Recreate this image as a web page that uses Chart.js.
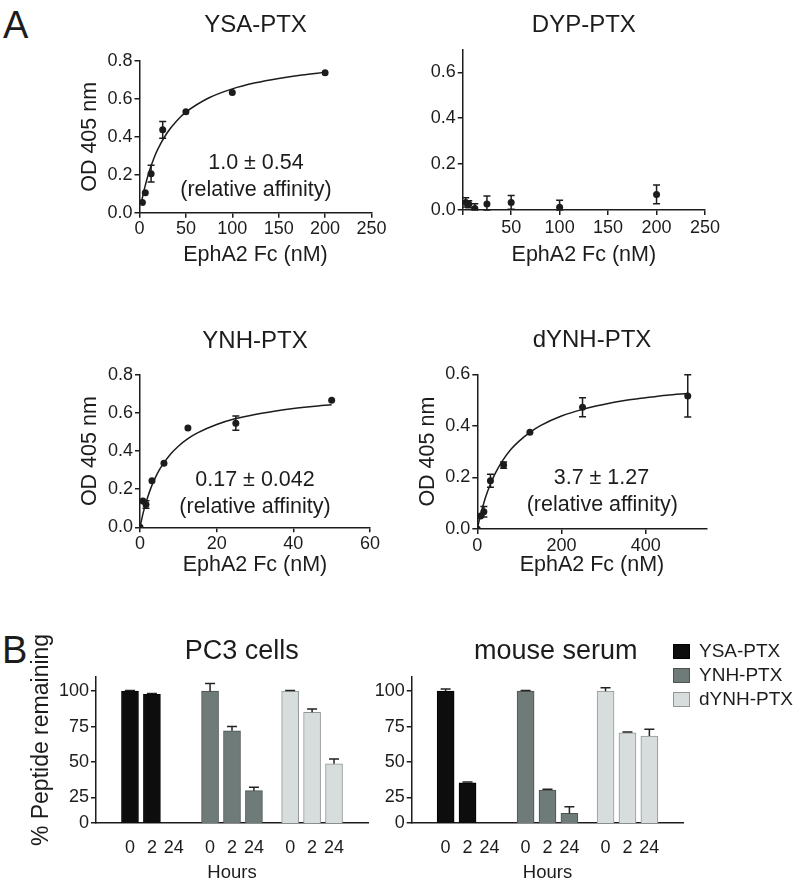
<!DOCTYPE html>
<html>
<head>
<meta charset="utf-8">
<title>EphA2 binding and peptide stability</title>
<script src="https://cdn.jsdelivr.net/npm/chart.js@4.4.1/dist/chart.umd.min.js"></script>
<style>
  body { margin: 0; background: #fff; }
  #fig { position: relative; width: 800px; height: 890px; font-family: "Liberation Sans", Arial, sans-serif; color: #1c1c1c; }
  #fig canvas { position: absolute; }
  .letter { position: absolute; font-size: 38px; line-height: 1; }
  #legend { position: absolute; left: 673px; top: 639px; font-size: 19px; }
  #legend .row { display: flex; align-items: center; height: 24px; }
  #legend .sw { width: 15px; height: 13px; border: 1px solid; margin-right: 9px; }
</style>
</head>
<body>
<div id="fig">
  <div class="letter" style="left:3px;top:6px">A</div>
  <div class="letter" style="left:2px;top:631px">B</div>
  <canvas id="ysa" width="400" height="290" style="left:0;top:0"></canvas>
  <canvas id="dyp" width="400" height="290" style="left:400px;top:0"></canvas>
  <canvas id="ynh" width="400" height="290" style="left:0;top:300px"></canvas>
  <canvas id="dynh" width="400" height="290" style="left:400px;top:300px"></canvas>
  <canvas id="pc3" width="400" height="290" style="left:0;top:600px"></canvas>
  <canvas id="serum" width="460" height="290" style="left:340px;top:600px"></canvas>
  <div id="legend"></div>
</div>
<script>
// ---- A: binding curves (EphA2 Fc, nM vs OD 405 nm) ----
const ysaConc = [3.125, 6.25, 12.5, 25, 50, 100, 200];
const ysaOD   = [0.054, 0.105, 0.206, 0.437, 0.532, 0.634, 0.738];
const ysaErr  = [0, 0, 0.044, 0.044, 0, 0, 0];
const ysaFitX = [2, 5, 10, 15, 20, 30, 40, 50, 75, 100, 125, 150, 175, 200];
const ysaFitY = [0.053, 0.120, 0.211, 0.281, 0.338, 0.423, 0.484, 0.530, 0.606, 0.653, 0.685, 0.708, 0.726, 0.740];

const dypConc = [3.125, 6.25, 12.5, 25, 50, 100, 200];
const dypOD   = [0.033, 0.025, 0.007, 0.026, 0.033, 0.012, 0.068];
const dypErr  = [0.02, 0.015, 0.02, 0.035, 0.03, 0.03, 0.041];

const ynhConc = [0, 0.78, 1.56, 3.125, 6.25, 12.5, 25, 50];
const ynhOD   = [0, 0.138, 0.12, 0.245, 0.337, 0.521, 0.547, 0.668];
const ynhErr  = [0, 0, 0.02, 0, 0, 0, 0.037, 0];
const ynhFitX = [0, 0.5, 1, 2, 3, 4, 5, 6, 8, 10, 12.5, 15, 20, 25, 30, 35, 40, 45, 50];
const ynhFitY = [0, 0.047, 0.089, 0.158, 0.215, 0.261, 0.300, 0.332, 0.385, 0.426, 0.466, 0.496, 0.540, 0.571, 0.593, 0.610, 0.624, 0.635, 0.644];

const dynhConc = [0, 7.8, 15.6, 31.25, 62.5, 125, 250, 500];
const dynhOD   = [0, 0.05, 0.067, 0.187, 0.248, 0.375, 0.472, 0.516];
const dynhErr  = [0, 0, 0.02, 0.025, 0.012, 0, 0.037, 0.082];
const dynhFitX = [0, 5, 10, 20, 30, 40, 50, 60, 80, 100, 125, 150, 200, 250, 300, 350, 400, 450, 500];
const dynhFitY = [0, 0.037, 0.069, 0.125, 0.170, 0.207, 0.238, 0.265, 0.309, 0.342, 0.375, 0.401, 0.438, 0.464, 0.483, 0.498, 0.509, 0.519, 0.526];

// ---- B: % peptide remaining at 0, 2, 24 h ----
const peptides = ['YSA-PTX', 'YNH-PTX', 'dYNH-PTX'];
const hourLabels = ['0', '2', '24'];
const pctTickValues = [7, 25, 50, 75, 100];
const pctTickLabels = ['0', '25', '50', '75', '100'];

const pc3YSA  = [100, 97.8, 0];    const pc3YSAErr  = [0.5, 0.5, 0];
const pc3YNH  = [100, 72.1, 29.8]; const pc3YNHErr  = [5.5, 3, 2.5];
const pc3DYNH = [100, 85.1, 48.8]; const pc3DYNHErr = [0.5, 2.3, 3.3];

const serumYSA  = [100, 35.4, 0];    const serumYSAErr  = [1.5, 0.5, 0];
const serumYNH  = [100, 30.3, 13.8]; const serumYNHErr  = [0.5, 0.5, 4.7];
const serumDYNH = [100, 70.7, 68.4]; const serumDYNHErr = [2.5, 0.5, 4.7];

const ink = '#1c1c1c';
const fills = ['#0d0d0d', '#6e7b79', '#d7dddc'];
const edges = ['#000000', '#4a5351', '#8f9896'];
const groupStep = 3.65;

Chart.defaults.font.family = '"Liberation Sans", Arial, Helvetica, sans-serif';
Chart.defaults.color = ink;

const axisGrid = { drawOnChartArea: false, tickLength: 5, color: ink, lineWidth: 1.5 };
const axisBorder = { display: true, color: ink, width: 1.5 };

// error bars read from dataset.errors; bars only get the upper half
const errorBars = {
    id: 'errorBars',
    afterDatasetsDraw(chart) {
        const ctx = chart.ctx;
        const yScale = chart.scales.y;
        chart.data.datasets.forEach((ds, i) => {
            if (!ds.errors) return;
            const meta = chart.getDatasetMeta(i);
            const cap = ds.errorUpOnly ? 5 : 3.5;
            meta.data.forEach((el, j) => {
                const err = ds.errors[j];
                if (!err) return;
                const v = ds.data[j].y;
                const top = yScale.getPixelForValue(v + err);
                const bottom = ds.errorUpOnly ? el.y : yScale.getPixelForValue(Math.max(yScale.min, v - err));
                ctx.save();
                ctx.strokeStyle = ds.errorUpOnly ? '#222' : ink;
                ctx.lineWidth = 1.5;
                ctx.beginPath();
                ctx.moveTo(el.x, top);
                ctx.lineTo(el.x, bottom);
                ctx.moveTo(el.x - cap, top);
                ctx.lineTo(el.x + cap, top);
                if (!ds.errorUpOnly) {
                    ctx.moveTo(el.x - cap, bottom);
                    ctx.lineTo(el.x + cap, bottom);
                }
                ctx.stroke();
                ctx.restore();
            });
        });
    }
};

// free text: anchored in data space, or relative to the chart area
const notes = {
    id: 'notes',
    afterDraw(chart, args, opts) {
        const ctx = chart.ctx;
        const area = chart.chartArea;
        (opts.items || []).forEach(it => {
            let x, y;
            if (it.data) {
                x = chart.scales.x.getPixelForValue(it.data[0]);
                y = chart.scales.y.getPixelForValue(it.data[1]);
            } else if (it.from === 'left') {
                x = area.left + it.dx;
                y = (area.top + area.bottom) / 2 + it.dy;
            } else {
                x = (area.left + area.right) / 2 + it.dx;
                y = area.top + it.dy;
            }
            ctx.save();
            ctx.font = it.size + 'px "Liberation Sans", Arial, sans-serif';
            ctx.fillStyle = ink;
            ctx.textAlign = 'center';
            ctx.textBaseline = 'middle';
            ctx.translate(x, y);
            if (it.rotate) ctx.rotate(it.rotate);
            ctx.fillText(it.text, 0, 0);
            ctx.restore();
        });
    }
};

function bindingPanel(id, p) {
    const datasets = [{
        data: p.conc.map((c, i) => ({ x: c, y: p.od[i] })),
        errors: p.err,
        pointRadius: 3.5,
        pointBackgroundColor: ink,
        pointBorderColor: ink,
        pointBorderWidth: 0
    }];
    if (p.fitX) {
        datasets.push({
            data: p.fitX.map((x, i) => ({ x: x, y: p.fitY[i] })),
            showLine: true,
            pointRadius: 0,
            borderColor: ink,
            borderWidth: 1.5,
            cubicInterpolationMode: 'monotone'
        });
    }
    return new Chart(document.getElementById(id), {
        type: 'scatter',
        data: { datasets: datasets },
        options: {
            responsive: false,
            animation: false,
            layout: { padding: p.pad },
            plugins: {
                legend: { display: false },
                tooltip: { enabled: false },
                title: { display: true, text: p.title, fullSize: false, color: ink,
                         font: { size: 24, weight: 'normal' }, padding: p.titlePad },
                notes: { items: p.notes || [] }
            },
            scales: {
                x: {
                    type: 'linear', min: 0, max: p.xMax,
                    ticks: { stepSize: p.xStep, includeBounds: false, autoSkip: false, maxRotation: 0,
                             padding: p.xTickPad, font: { size: 18 },
                             callback: v => (p.hideZeroX && v === 0) ? '' : v },
                    grid: axisGrid,
                    border: axisBorder,
                    title: { display: true, text: 'EphA2 Fc (nM)', font: { size: 21.5 }, padding: 0 },
                    afterFit: s => { s.height = p.hx; }
                },
                y: {
                    min: 0, max: p.yMax,
                    ticks: { stepSize: 0.2, includeBounds: false, padding: 2, font: { size: 18 },
                             callback: v => v.toFixed(1) },
                    grid: axisGrid,
                    border: axisBorder,
                    title: { display: !!p.yTitle, text: 'OD 405 nm', font: { size: 21.5 }, padding: 0 },
                    afterFit: s => { s.width = p.wy; }
                }
            }
        },
        plugins: [errorBars, notes]
    });
}

function stabilityPanel(id, p) {
    const series = [p.ysa, p.ynh, p.dynh];
    const errs = [p.ysaErr, p.ynhErr, p.dynhErr];
    const slots = [];
    const datasets = peptides.map((name, g) => ({
        label: name,
        data: series[g].map((v, h) => {
            slots.push(g * groupStep + h);
            return { x: g * groupStep + h, y: v };
        }),
        errors: errs[g],
        errorUpOnly: true,
        backgroundColor: fills[g],
        borderColor: edges[g],
        borderWidth: 1,
        barThickness: 17,
        grouped: false,
        clip: 0
    }));
    return new Chart(document.getElementById(id), {
        type: 'bar',
        data: { datasets: datasets },
        options: {
            responsive: false,
            animation: false,
            layout: { padding: p.pad },
            plugins: {
                legend: { display: false },
                tooltip: { enabled: false },
                notes: { items: p.notes }
            },
            scales: {
                x: {
                    type: 'linear', min: -0.86, max: 2 * groupStep + 2.86,
                    afterBuildTicks: s => { s.ticks = slots.map(v => ({ value: v })); },
                    ticks: { autoSkip: false, maxRotation: 0, padding: 14.5, font: { size: 18 },
                             callback: (v, i) => hourLabels[i % 3] },
                    grid: { display: false, drawTicks: false },
                    border: axisBorder,
                    title: { display: true, text: 'Hours', font: { size: 18.5 }, padding: 0 },
                    afterFit: s => { s.height = 61.4; }
                },
                y: {
                    min: 7, max: 110,
                    afterBuildTicks: s => { s.ticks = pctTickValues.map(v => ({ value: v })); },
                    ticks: { padding: 2, font: { size: 18 }, callback: (v, i) => pctTickLabels[i] },
                    grid: axisGrid,
                    border: axisBorder,
                    afterFit: s => { s.width = p.wy; }
                }
            }
        },
        plugins: [errorBars, notes]
    });
}

bindingPanel('ysa', {
    title: 'YSA-PTX', conc: ysaConc, od: ysaOD, err: ysaErr, fitX: ysaFitX, fitY: ysaFitY,
    xMax: 250, xStep: 50, yMax: 0.8, yTitle: true, xTickPad: 1,
    pad: { left: 77.1, right: 28.5, top: 0, bottom: 22.1 }, titlePad: { top: 10.6, bottom: 21.6 },
    wy: 62.4, hx: 55.2,
    notes: [{ text: '1.0 \u00b1 0.54', size: 21.5, data: [125.5, 0.26] },
            { text: '(relative affinity)', size: 21.5, data: [125.5, 0.119] }]
});

bindingPanel('dyp', {
    title: 'DYP-PTX', conc: dypConc, od: dypOD, err: dypErr,
    xMax: 250, xStep: 50, yMax: 0.7, hideZeroX: true, xTickPad: 2.5,
    pad: { left: 0, right: 95, top: 0, bottom: 22.1 }, titlePad: { top: 10.6, bottom: 9.9 },
    wy: 62.7, hx: 57.9
});

bindingPanel('ynh', {
    title: 'YNH-PTX', conc: ynhConc, od: ynhOD, err: ynhErr, fitX: ynhFitX, fitY: ynhFitY,
    xMax: 60, xStep: 20, yMax: 0.8, yTitle: true, xTickPad: 1,
    pad: { left: 77.1, right: 30, top: 0, bottom: 12.1 }, titlePad: { top: 27.3, bottom: 18.9 },
    wy: 62.9, hx: 50.6,
    notes: [{ text: '0.17 \u00b1 0.042', size: 21.5, data: [30, 0.248] },
            { text: '(relative affinity)', size: 21.5, data: [30, 0.108] }]
});

bindingPanel('dynh', {
    title: 'dYNH-PTX', conc: dynhConc, od: dynhOD, err: dynhErr, fitX: dynhFitX, fitY: dynhFitY,
    xMax: 545, xStep: 200, yMax: 0.6, yTitle: true, xTickPad: 1,
    pad: { left: 15.4, right: 93.3, top: 0, bottom: 12.1 }, titlePad: { top: 25.6, bottom: 19.9 },
    wy: 61.9, hx: 48.9,
    notes: [{ text: '3.7 \u00b1 1.27', size: 21.5, data: [295, 0.197] },
            { text: '(relative affinity)', size: 21.5, data: [297, 0.093] }]
});

stabilityPanel('pc3', {
    ysa: pc3YSA, ynh: pc3YNH, dynh: pc3DYNH,
    ysaErr: pc3YSAErr, ynhErr: pc3YNHErr, dynhErr: pc3DYNHErr,
    pad: { left: 0, right: 32, top: 77, bottom: 5.6 }, wy: 96,
    notes: [{ text: 'PC3 cells', size: 27, dx: 9.7, dy: -25.3 },
            { text: '% Peptide remaining', size: 23, from: 'left', dx: -54.3, dy: -10, rotate: -Math.PI / 2 }]
});

stabilityPanel('serum', {
    ysa: serumYSA, ynh: serumYNH, dynh: serumDYNH,
    ysaErr: serumYSAErr, ynhErr: serumYNHErr, dynhErr: serumDYNHErr,
    pad: { left: 0, right: 116.7, top: 77, bottom: 5.6 }, wy: 71.7,
    notes: [{ text: 'mouse serum', size: 27, dx: 8.2, dy: -25 }]
});

// legend for panel B
const legendDiv = document.getElementById('legend');
peptides.forEach((name, g) => {
    legendDiv.innerHTML += `
        <div class="row">
            <span class="sw" style="background:${fills[g]};border-color:${edges[g]}"></span>
            <span>${name}</span>
        </div>`;
});
</script>
</body>
</html>
